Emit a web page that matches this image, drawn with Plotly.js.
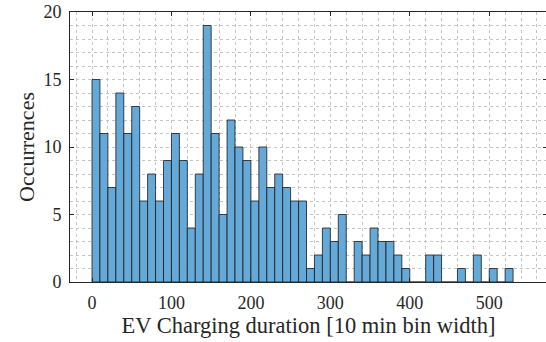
<!DOCTYPE html>
<html>
<head>
<meta charset="utf-8">
<script src="https://cdn.plot.ly/plotly-3.0.1.min.js"></script>
<style>
html,body{margin:0;padding:0;overflow:hidden;background:#fff;width:546px;height:342px;}
#chart{width:550px;height:342px;}
</style>
</head>
<body>
<div id="chart"></div>
<script>
// Histogram of EV charging durations, 10-unit bins starting at 0
const binStart = 0;
const binWidth = 10;
const counts = [15, 11, 7, 14, 11, 13, 6, 8, 6, 9,
                11, 9, 4, 8, 19, 11, 5, 12, 10, 9,
                6, 10, 7, 8, 7, 6, 6, 1, 2, 4,
                3, 5, 0, 3, 2, 4, 3, 3, 2, 1,
                0, 0, 2, 2, 0, 0, 1, 0, 2, 0,
                1, 0, 1];
const xTickVals = [0, 100, 200, 300, 400, 500];
const yTickVals = [0, 5, 10, 15, 20];
const xTitle = 'EV Charging duration [10 min bin width]';
const yTitle = 'Occurrences';

const binLeft = counts.map((_, i) => binStart + i * binWidth);

const trace = {
  type: 'bar',
  x: binLeft,
  y: counts,
  width: binWidth,
  offset: 0,
  marker: {color: '#64a9d8', line: {color: '#1a1a1a', width: 0.8}},
  hoverinfo: 'x+y'
};

const fontFam = 'Liberation Serif';
const gridCol = '#c4c4c4';

const layout = {
  width: 550, height: 342,
  margin: {l: 70, r: 3, t: 12, b: 60, pad: 0},
  paper_bgcolor: '#fff', plot_bgcolor: '#fff',
  showlegend: false,
  bargap: 0,
  font: {family: fontFam, color: '#262626', size: 18},
  xaxis: {
    range: [-27.7, 572.7],
    tickvals: xTickVals,
    ticks: 'inside', ticklen: 4, tickcolor: '#262626', tickwidth: 1,
    showline: true, linecolor: '#262626', linewidth: 1, mirror: 'ticks',
    showgrid: true, gridcolor: gridCol, griddash: 'dot', gridwidth: 1,
    minor: {dtick: 20, tick0: 0, showgrid: true, gridcolor: gridCol, griddash: 'dot', gridwidth: 1, ticks: ''},
    zeroline: false,
    ticklabelstandoff: 4,
    tickfont: {family: fontFam, size: 18, color: '#262626'},
    title: {text: xTitle, font: {family: fontFam, size: 22.5, color: '#262626'}, standoff: 5}
  },
  yaxis: {
    range: [0, 20],
    tickvals: yTickVals,
    ticks: 'inside', ticklen: 4, tickcolor: '#262626', tickwidth: 1,
    showline: true, linecolor: '#262626', linewidth: 1, mirror: 'ticks',
    showgrid: true, gridcolor: gridCol, griddash: 'dot', gridwidth: 1,
    minor: {dtick: 1, tick0: 0, showgrid: true, gridcolor: gridCol, griddash: 'dot', gridwidth: 1, ticks: ''},
    zeroline: false,
    ticklabelstandoff: 4,
    tickfont: {family: fontFam, size: 18, color: '#262626'},
    title: {text: yTitle, font: {family: fontFam, size: 22, color: '#262626'}, standoff: 2}
  }
};

Plotly.newPlot('chart', [trace], layout, {displayModeBar: false, staticPlot: true});
</script>
</body>
</html>
